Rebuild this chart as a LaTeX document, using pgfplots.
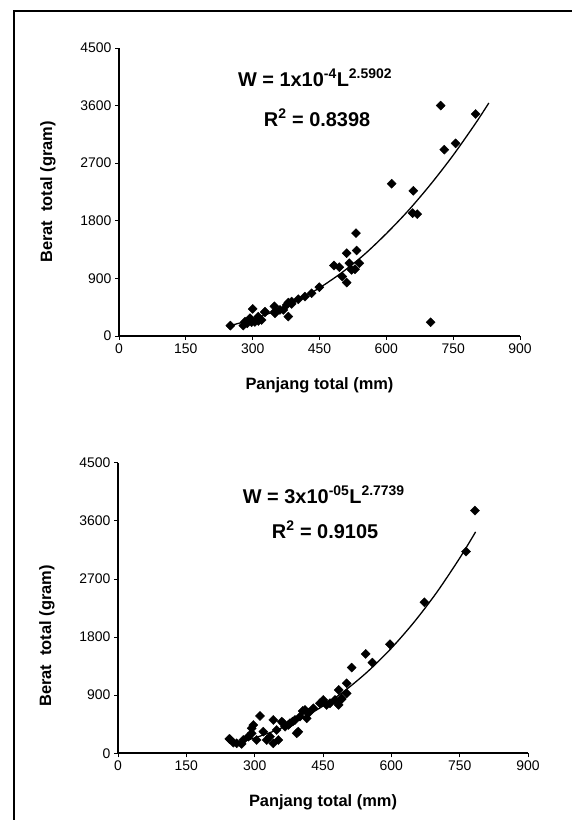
\documentclass[border=0pt]{standalone}
\usepackage{fontspec}
\setmainfont{Liberation Sans}
\usepackage{pgfplots}
\pgfplotsset{compat=1.18}
\pgfplotsset{
  lwstyle/.style={
    scale only axis,
    xmin=0, xmax=900, ymin=0, ymax=4500,
    xtick={0,150,...,900}, ytick={0,900,...,4500},
    axis lines=left,
    axis line style={line width=1.6bp,-},
    tick align=outside, major tick length=4bp,
    tick style={line width=0.8bp,black},
    /pgf/number format/assume math mode=true,
    /pgf/number format/1000 sep={},
    xticklabel={\fontsize{14}{15}\selectfont\pgfmathprintnumber{\tick}},
    yticklabel={\fontsize{14}{15}\selectfont\pgfmathprintnumber{\tick}},
    scaled ticks=false,
    clip=false,
    xlabel={Panjang total (mm)},
    ylabel={Berat\ \ total (gram)},
    every axis x label/.style={at={(axis description cs:0.5,0)},anchor=center,yshift=-49bp,font=\bfseries\fontsize{16.5}{18}\selectfont},
  },
  pts/.style={only marks, mark=square*, mark size=3.2bp, mark options={rotate=45, fill=black, draw=black}},
  trend/.style={smooth, no markers, line width=1.3bp, black},
}
\begin{document}
\begin{tikzpicture}[x=1bp,y=1bp]
\useasboundingbox (0,0) rectangle (572,820);
\draw[line width=2.2bp] (14,-2) -- (14,809) -- (574,809);

% ---------- top chart ----------
\begin{axis}[lwstyle,
  at={(119bp,484bp)}, anchor=south west,
  width=401bp, height=288bp,
  every axis y label/.style={at={(axis description cs:0,0.5)},anchor=center,xshift=-71bp,rotate=90,font=\bfseries\fontsize{16.5}{18}\selectfont},
]
\addplot[pts] coordinates {
(250,162) (279,162) (288,198) (297.7,214) (305,219) (312.7,235) (320,250)
(300,423) (327.6,370) (348.6,464) (350,381) (368.7,407) (380,522) (387.5,501)
(380,303) (402.4,574) (417.4,616) (449.5,762) (482.5,1101) (494.4,1075)
(501,929) (511,835) (511,1294) (516.9,1137) (522,1033) (529.6,1043)
(531.8,1607) (533.4,1336) (539.3,1137) (612,2379) (660.5,2269) (659,1920)
(669.5,1904) (699.4,214) (721.9,3600) (730,2911) (755.5,3010) (800.4,3469)
(282.7,224) (294,277) (312.6,302) (327.6,381) (350,355) (361.3,407)
(376.3,485) (387.5,537) (432.4,668)
};
\addplot[trend] coordinates {
(250,163) (300,261) (350,389) (400,552) (450,752) (500,990) (550,1270)
(600,1600) (650,1965) (700,2375) (750,2825) (800,3320) (830,3640)
};
\node[font=\bfseries\fontsize{20}{22}\selectfont] at (rel axis cs:0.489,0.896)
  {W = 1x10\textsuperscript{-4}L\textsuperscript{2.5902}};
\node[font=\bfseries\fontsize{20}{22}\selectfont] at (rel axis cs:0.494,0.757)
  {R\textsuperscript{2} = 0.8398};
\end{axis}

% ---------- bottom chart ----------
\begin{axis}[lwstyle,
  at={(118bp,66.7bp)}, anchor=south west,
  width=410bp, height=290.6bp,
  every axis y label/.style={at={(axis description cs:0,0.404)},anchor=center,xshift=-71bp,rotate=90,font=\bfseries\fontsize{16.5}{18}\selectfont},
]
\addplot[pts] coordinates {
(783.6,3759) (763.9,3124) (672.4,2339) (597,1689) (543.6,1539) (558.3,1405)
(512.9,1327) (502,1084) (484.4,981) (491,837) (484.4,749) (465.4,775)
(450.7,826) (443.4,775) (417.7,630) (405.4,656) (414.2,542) (392.2,310)
(383.4,491) (373.8,439) (362.8,465) (340.9,516) (340.9,155) (311.7,578)
(293.5,387) (244.3,222) (253.1,165) (271.5,145)
(245.8,217) (260.5,155) (275,206) (286,257) (297,438) (293.5,310) (304.4,206)
(319,335) (326.4,206) (333.6,257) (348.3,361) (351.9,206) (359.3,490)
(366.6,412) (377.5,465) (388.5,516) (395.8,335) (399.5,567) (410.5,671)
(417.7,620) (428.7,697) (458,748) (476.3,826) (491,852) (502,929)
};
\addplot[trend] coordinates {
(260,160) (300,238) (350,365) (400,528) (450,732) (500,981) (550,1278)
(600,1627) (650,2032) (700,2495) (750,3022) (785,3429)
};
\node[font=\bfseries\fontsize{20}{22}\selectfont] at (rel axis cs:0.502,0.889)
  {W = 3x10\textsuperscript{-05}L\textsuperscript{2.7739}};
\node[font=\bfseries\fontsize{20}{22}\selectfont] at (rel axis cs:0.505,0.769)
  {R\textsuperscript{2} = 0.9105};
\end{axis}
\end{tikzpicture}
\end{document}
